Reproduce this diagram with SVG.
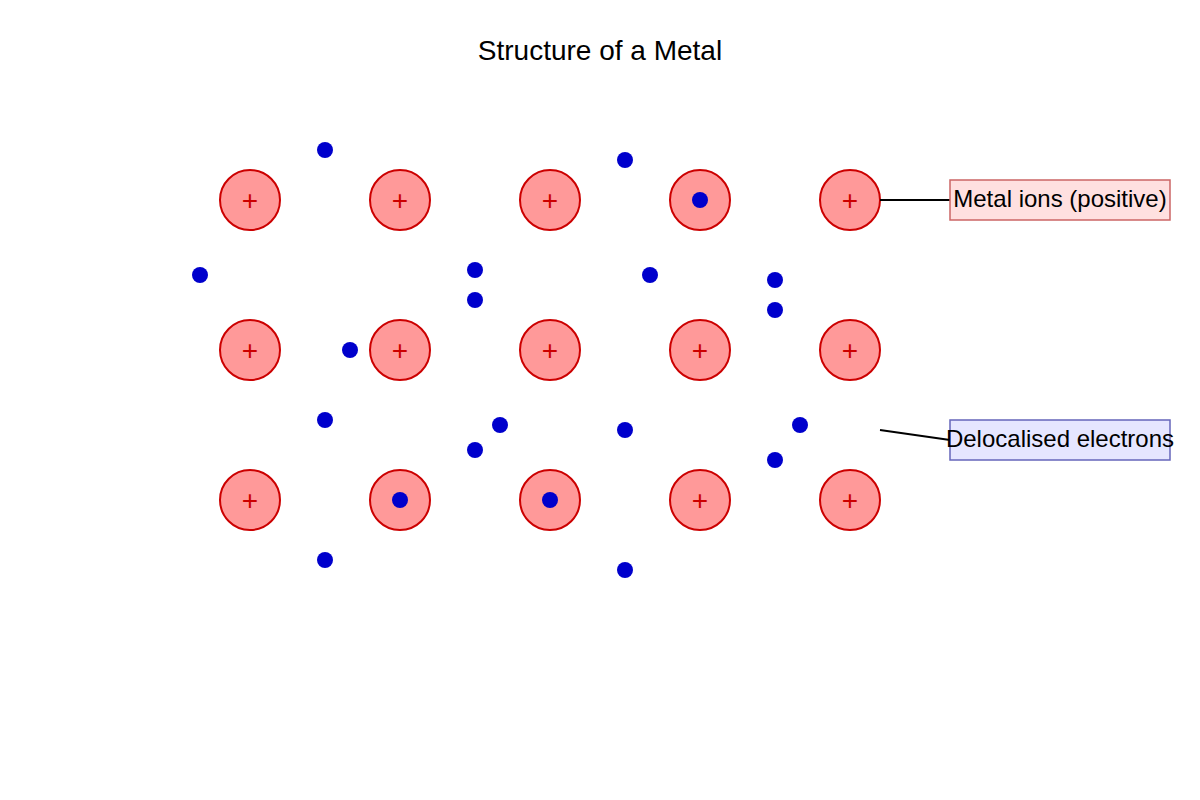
<svg xmlns="http://www.w3.org/2000/svg" width="1200" height="800" viewBox="0 0 1200 800">
<style>
.ion{fill:#ff9999;stroke:#cc0000;stroke-width:2}
.pl{font-family:"Liberation Sans",Arial,sans-serif;font-size:28px;fill:#cc0000;text-anchor:middle}
.e{fill:#0000cc}
.lbl{font-family:"Liberation Sans",Arial,sans-serif;font-size:24px;fill:#000;text-anchor:middle}
</style>
<rect width="1200" height="800" fill="#fff"/>
<text x="600" y="60" class="lbl" style="font-size:28px">Structure of a Metal</text>
<g id="ions">
<g id="i11"><circle class="ion" cx="250" cy="200" r="30"/><text class="pl" x="250" y="210">+</text></g>
<g id="i12"><circle class="ion" cx="400" cy="200" r="30"/><text class="pl" x="400" y="210">+</text></g>
<g id="i13"><circle class="ion" cx="550" cy="200" r="30"/><text class="pl" x="550" y="210">+</text></g>
<g id="i14"><circle class="ion" cx="700" cy="200" r="30"/></g>
<g id="i15"><circle class="ion" cx="850" cy="200" r="30"/><text class="pl" x="850" y="210">+</text></g>
<g id="i21"><circle class="ion" cx="250" cy="350" r="30"/><text class="pl" x="250" y="360">+</text></g>
<g id="i22"><circle class="ion" cx="400" cy="350" r="30"/><text class="pl" x="400" y="360">+</text></g>
<g id="i23"><circle class="ion" cx="550" cy="350" r="30"/><text class="pl" x="550" y="360">+</text></g>
<g id="i24"><circle class="ion" cx="700" cy="350" r="30"/><text class="pl" x="700" y="360">+</text></g>
<g id="i25"><circle class="ion" cx="850" cy="350" r="30"/><text class="pl" x="850" y="360">+</text></g>
<g id="i31"><circle class="ion" cx="250" cy="500" r="30"/><text class="pl" x="250" y="510">+</text></g>
<g id="i32"><circle class="ion" cx="400" cy="500" r="30"/></g>
<g id="i33"><circle class="ion" cx="550" cy="500" r="30"/></g>
<g id="i34"><circle class="ion" cx="700" cy="500" r="30"/><text class="pl" x="700" y="510">+</text></g>
<g id="i35"><circle class="ion" cx="850" cy="500" r="30"/><text class="pl" x="850" y="510">+</text></g>
</g>
<g id="electrons">
<circle class="e" cx="325" cy="150" r="8"/><circle class="e" cx="625" cy="160" r="8"/>
<circle class="e" cx="700" cy="200" r="8"/><circle class="e" cx="200" cy="275" r="8"/>
<circle class="e" cx="475" cy="270" r="8"/><circle class="e" cx="650" cy="275" r="8"/>
<circle class="e" cx="775" cy="280" r="8"/><circle class="e" cx="475" cy="300" r="8"/>
<circle class="e" cx="775" cy="310" r="8"/><circle class="e" cx="350" cy="350" r="8"/>
<circle class="e" cx="325" cy="420" r="8"/><circle class="e" cx="500" cy="425" r="8"/>
<circle class="e" cx="625" cy="430" r="8"/><circle class="e" cx="800" cy="425" r="8"/>
<circle class="e" cx="475" cy="450" r="8"/><circle class="e" cx="775" cy="460" r="8"/>
<circle class="e" cx="400" cy="500" r="8"/><circle class="e" cx="550" cy="500" r="8"/>
<circle class="e" cx="325" cy="560" r="8"/><circle class="e" cx="625" cy="570" r="8"/>
</g>
<g id="connectors" stroke="#000" stroke-width="2">
<line x1="880" y1="200" x2="950" y2="200"/>
<line x1="880" y1="430" x2="950" y2="440"/>
</g>
<g id="label-ions"><rect x="950" y="180" width="220" height="40" fill="#ffe0e0" stroke="#cc6666" stroke-width="1.5"/><text class="lbl" x="1060" y="207">Metal ions (positive)</text></g>
<g id="label-electrons"><rect x="950" y="420" width="220" height="40" fill="#e6e6ff" stroke="#6666bb" stroke-width="1.5"/><text class="lbl" x="1060" y="447">Delocalised electrons</text></g>
</svg>
